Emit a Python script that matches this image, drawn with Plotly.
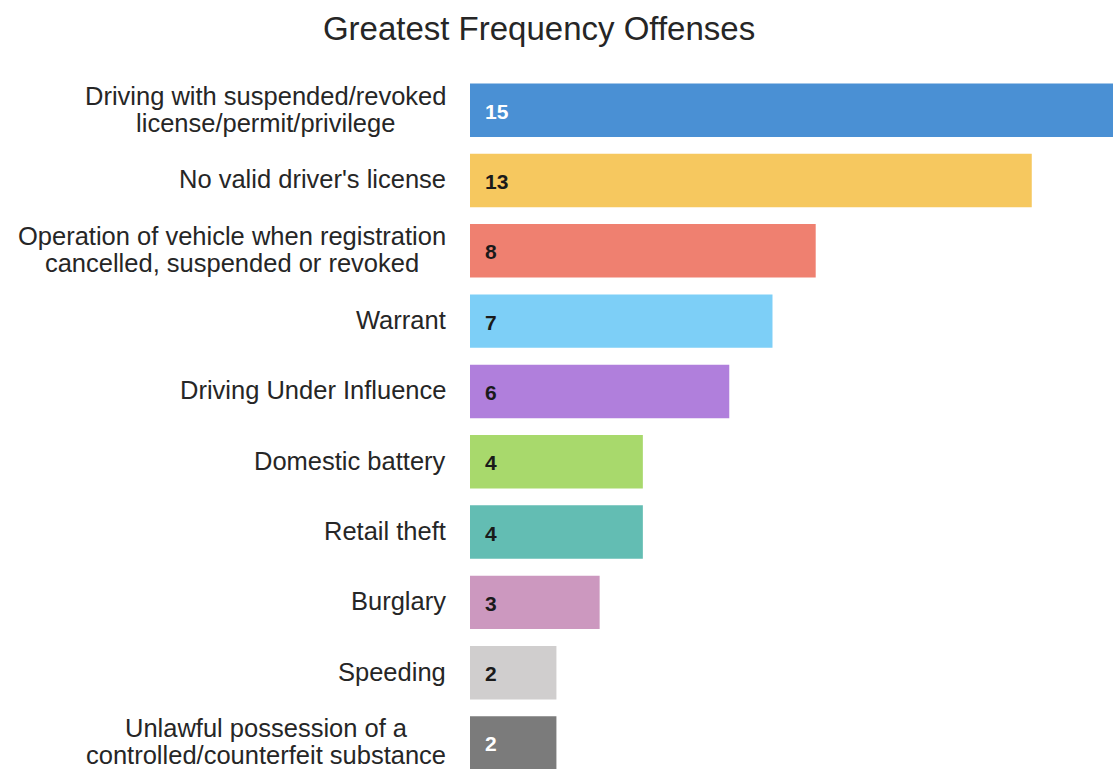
import plotly.graph_objects as go

categories = [
    "Driving with suspended/revoked<br>license/permit/privilege",
    "No valid driver's license",
    "Operation of vehicle when registration<br>cancelled, suspended or revoked",
    "Warrant",
    "Driving Under Influence",
    "Domestic battery",
    "Retail theft",
    "Burglary",
    "Speeding",
    "Unlawful possession of a<br>controlled/counterfeit substance",
]
values = [15, 13, 8, 7, 6, 4, 4, 3, 2, 2]
colors = ["#4a90d4", "#f6c85f", "#ef8070", "#7dcff7", "#b07fdc",
          "#a8d96c", "#63bdb3", "#cc98bf", "#d0cece", "#7b7b7b"]
label_colors = ["#ffffff", "#1a1a1a", "#1a1a1a", "#1a1a1a", "#1a1a1a",
                "#1a1a1a", "#1a1a1a", "#1a1a1a", "#1a1a1a", "#ffffff"]

FONT = "Liberation Sans, Arial, Helvetica, sans-serif"
LABEL_PX = 25.5
LINE_PX = 26.5

fig = go.Figure(go.Bar(
    x=values, y=categories, orientation="h",
    marker=dict(color=colors, line=dict(width=0)),
    width=0.76, hoverinfo="skip",
))

annotations = []
for cat, v, lc in zip(categories, values, label_colors):
    annotations.append(dict(
        x=0, y=cat, xref="x", yref="y", text=f"<b>{v}</b>",
        showarrow=False, xanchor="left", xshift=13, yshift=-1,
        font=dict(family=FONT, size=21, color=lc),
    ))
    styled = "<br>".join(
        f"<span style='font-size:{LABEL_PX}px'>{line}</span>" for line in cat.split("<br>")
    )
    annotations.append(dict(
        x=0, y=cat, xref="x", yref="y", text=styled,
        showarrow=False, xanchor="right", xshift=-22, yshift=1, align="center",
        font=dict(family=FONT, size=LINE_PX / 1.3, color="#262626"),
    ))

fig.update_layout(
    width=1113, height=769,
    margin=dict(l=470, r=0, t=75, b=0),
    paper_bgcolor="white", plot_bgcolor="white",
    title=dict(text="Greatest Frequency Offenses", xref="container", x=0.4843,
               xanchor="center", yref="container", y=1 - 28 / 769, yanchor="middle",
               font=dict(family=FONT, size=33, color="#262626")),
    xaxis=dict(range=[0, 14.88], visible=False),
    yaxis=dict(type="category", range=[9.37, -0.5], showticklabels=False,
               showgrid=False, zeroline=False, showline=False, ticks=""),
    annotations=annotations,
    showlegend=False,
)

fig.write_html("out.html", config={"displayModeBar": False},
               post_script="document.body.style.margin='0px';")
